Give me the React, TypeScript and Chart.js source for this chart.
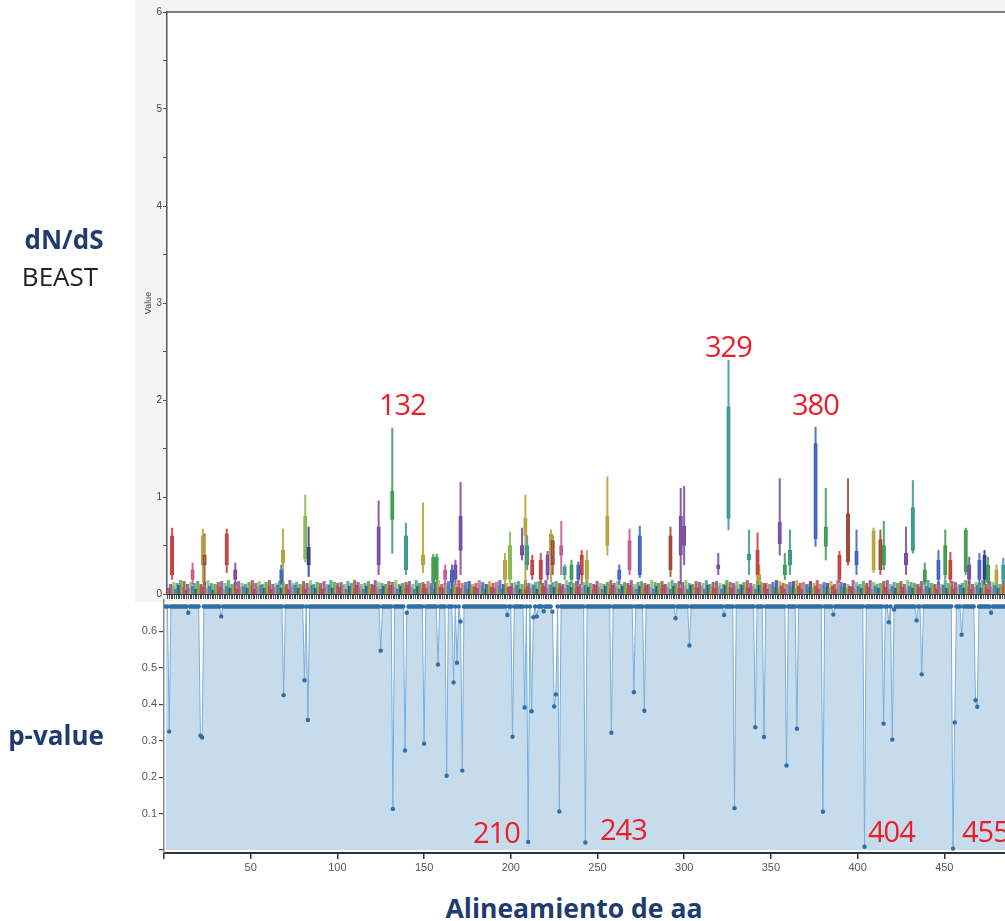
import React, { useEffect, useRef } from 'react';
import { Chart, registerables } from 'chart.js';
Chart.register(...registerables);
Chart.defaults.font.family = "'Liberation Sans', Arial, sans-serif";

// ---------- top panel (dN/dS BEAST) ----------
const TOP_SITES = 490;
const TOP_XMAX = 491;
// background per-site upper whisker, hundredths (hex digit per site)
const bgMaxHex =
  '6a8c5b9e7d4a6c8b5d9a7c6e8b4a9c7d5b8e6a9c5d7b8a6c9e' +
  '5b7d9a6c8e5a7b9d6c8a5e7b9c6a8d5b7e9a6c8b5d7a9e6c8b' +
  '7c9a5d8b6e9c7a5b8d6a9e7c5b8a6d9c7e5a8b6c9d7a5e8b6c' +
  'a6d8b5c9e7a6b8d5c9a7e6b8c5d9a7b6e8c5a9d7b6c8e5a9b7' +
  '8b6c9d5a7e8b6a9c5d7b8e6a9c7d5b8a6e9c7b5d8a6c9e7b5a' +
  '9d7b5a8c6e9b7d5a8c6b9e7a5c8d6b9a7e5c8b6d9a7c5e8b6d' +
  '6c8e5b9a7d6c8b5e9a7c6d8b5a9e7c6b8d5a9c7e6b8a5d9c7b' +
  'b5a9c7e6d8b5a9c7d6e8b5c9a7d6b8e5a9c7b6d8a5e9c7b6a8' +
  '7e5c8a6d9b7e5c8a6b9d7e5a8c6b9d7a5e8c6b9a7d5c8e6b9a' +
  '5c7a9e6b8d5c7a9b6e8d5a7c9b6e8a5d7c9b6a8e5c7d9b6a8c';

const peakSites = [3, 15, 21, 22, 35, 40, 67, 68, 81, 83, 124, 132, 140, 150, 156, 158, 163, 167, 169, 172,
  198, 201, 208, 210, 211, 214, 219, 223, 225, 226, 231, 233, 237, 241, 243, 246, 258, 265, 271, 277,
  295, 301, 303, 323, 329, 341, 346, 347, 359, 362, 365, 380, 386, 394, 399, 404, 414, 418, 420, 433,
  437, 444, 452, 456, 459, 468, 470, 476, 479, 481, 486, 490];
const peakMin = [0.15, 0.1, 0.12, 0.1, 0.22, 0.1, 0.1, 0.12, 0.33, 0.18, 0.2, 0.42, 0.2, 0.22, 0.1, 0.1, 0.1, 0.08, 0.1, 0.2,
  0.1, 0.1, 0.35, 0.05, 0.25, 0.15, 0.1, 0.15, 0.12, 0.2, 0.2, 0.15, 0.1, 0.1, 0.1, 0.1, 0.4, 0.1, 0.2, 0.17,
  0.18, 0.1, 0.3, 0.2, 0.66, 0.2, 0.12, 0.1, 0.4, 0.15, 0.2, 0.49, 0.35, 0.12, 0.3, 0.2, 0.22, 0.2, 0.25, 0.2,
  0.42, 0.1, 0.1, 0.15, 0.12, 0.2, 0.1, 0.1, 0.1, 0.1, 0.1, 0.1];
const peakQ1 = [0.2, 0.15, 0.3, 0.3, 0.3, 0.15, 0.12, 0.32, 0.36, 0.3, 0.3, 0.77, 0.25, 0.3, 0.12, 0.15, 0.15, 0.12, 0.15, 0.45,
  0.15, 0.15, 0.4, 0.6, 0.3, 0.2, 0.15, 0.2, 0.4, 0.3, 0.4, 0.2, 0.15, 0.15, 0.2, 0.15, 0.5, 0.15, 0.25, 0.2,
  0.25, 0.4, 0.5, 0.26, 0.78, 0.35, 0.2, 0.12, 0.52, 0.2, 0.3, 0.57, 0.49, 0.15, 0.33, 0.3, 0.25, 0.25, 0.3, 0.3,
  0.45, 0.12, 0.15, 0.2, 0.15, 0.23, 0.15, 0.15, 0.15, 0.12, 0.12, 0.15];
const peakQ3 = [0.6, 0.25, 0.6, 0.4, 0.62, 0.25, 0.25, 0.45, 0.8, 0.48, 0.69, 1.06, 0.6, 0.4, 0.38, 0.38, 0.25, 0.25, 0.3, 0.8,
  0.35, 0.5, 0.5, 0.78, 0.5, 0.35, 0.35, 0.4, 0.62, 0.55, 0.5, 0.28, 0.3, 0.3, 0.4, 0.35, 0.8, 0.25, 0.55, 0.6,
  0.6, 0.8, 0.7, 0.3, 1.93, 0.41, 0.45, 0.2, 0.74, 0.3, 0.45, 1.55, 0.69, 0.4, 0.83, 0.44, 0.65, 0.56, 0.5, 0.42,
  0.89, 0.25, 0.35, 0.5, 0.35, 0.66, 0.3, 0.35, 0.4, 0.3, 0.25, 0.3];
const peakMax = [0.68, 0.32, 0.67, 0.62, 0.67, 0.32, 0.3, 0.67, 1.02, 0.69, 0.96, 1.71, 0.73, 0.94, 0.41, 0.41, 0.3, 0.3, 0.35, 1.15,
  0.42, 0.64, 0.68, 1.02, 0.6, 0.4, 0.42, 0.44, 0.66, 0.6, 0.75, 0.3, 0.35, 0.33, 0.45, 0.45, 1.21, 0.3, 0.67, 0.7,
  0.69, 1.09, 1.11, 0.42, 2.41, 0.66, 0.63, 0.3, 1.19, 0.42, 0.66, 1.72, 1.09, 0.44, 1.19, 0.66, 0.68, 0.66, 0.75, 0.69,
  1.17, 0.32, 0.45, 0.66, 0.43, 0.68, 0.38, 0.42, 0.45, 0.38, 0.3, 0.37];
const peakColorKey = ['r', 'k', 'o', 'n', 'r', 'p', 'b', 'o', 'l', 'v', 'p', 'g', 't', 'o', 'g', 'g', 'k', 'b', 'p', 'p',
  'o', 'l', 'p', 'o', 't', 'r', 'r', 'p', 'o', 'n', 'k', 't', 'g', 'b', 'r', 'o', 'o', 'b', 'k', 'b',
  'n', 'p', 'p', 'p', 't', 't', 'r', 'o', 'p', 'g', 't', 'b', 'g', 'r', 'n', 'b', 'o', 'n', 'g', 'p',
  't', 'g', 'b', 'g', 'r', 'g', 'p', 'b', 'v', 'g', 'o', 't'];
const topYTicks = [0, 0.5, 1, 1.5, 2, 2.5, 3, 3.5, 4, 4.5, 5, 5.5, 6];

// ---------- bottom panel (p-value) ----------
const P_SITES = 486;
const P_XMAX = 485;
const pBaseline = 0.668;
const dipSites = [3, 14, 21, 22, 33, 69, 81, 83, 125, 132, 139, 140, 150, 158, 163, 167, 169, 171, 172, 198,
  201, 208, 210, 212, 213, 215, 219, 224, 225, 226, 228, 243, 258, 271, 277, 295, 303, 323, 329, 341,
  346, 359, 365, 380, 386, 404, 415, 418, 420, 421, 434, 437, 455, 456, 460, 468, 469, 477];
const dipValues = [0.325, 0.651, 0.314, 0.309, 0.641, 0.425, 0.466, 0.357, 0.547, 0.113, 0.273, 0.651, 0.292, 0.509, 0.204, 0.46, 0.514, 0.627, 0.218, 0.645,
  0.311, 0.391, 0.022, 0.381, 0.639, 0.641, 0.655, 0.654, 0.394, 0.427, 0.106, 0.021, 0.322, 0.433, 0.382, 0.636, 0.561, 0.645, 0.115, 0.337,
  0.31, 0.232, 0.333, 0.105, 0.646, 0.009, 0.347, 0.625, 0.303, 0.66, 0.63, 0.482, 0.004, 0.35, 0.591, 0.411, 0.393, 0.651];
const pYTicks = [0, 0.1, 0.2, 0.3, 0.4, 0.5, 0.6];
const pXTicks = [0, 50, 100, 150, 200, 250, 300, 350, 400, 450];

const annotations = [
  { text: '132', left: 379, top: 389 },
  { text: '329', left: 705, top: 331 },
  { text: '380', left: 792, top: 389 },
  { text: '210', left: 473, top: 817 },
  { text: '243', left: 600, top: 814 },
  { text: '404', left: 868, top: 816 },
  { text: '455', left: 962, top: 816 },
];

const colorMap: Record<string, string> = {
  r: '#c4403f', g: '#3f9a52', b: '#3c63c0', p: '#7a4a9e', o: '#b8a23a',
  t: '#3a9a8a', k: '#c25a8e', n: '#9a4a3a', v: '#2f3a8a', l: '#8ab850',
};
const bgPalette = ['#c4403f', '#3f9a52', '#3c63c0', '#7a4a9e', '#b8a23a', '#3a9a8a', '#c25a8e', '#9a4a3a', '#2f3a8a', '#8ab850'];
const NAVY = '#1f3b70';

const topBgPlugin = {
  id: 'topBg',
  beforeDraw(chart: any) {
    const { ctx, chartArea } = chart;
    ctx.save();
    ctx.fillStyle = '#f4f4f4';
    ctx.fillRect(135, 0, chart.width - 135, 602);
    ctx.fillStyle = '#ffffff';
    ctx.fillRect(chartArea.left, chartArea.top, chartArea.right - chartArea.left, chartArea.bottom - chartArea.top);
    ctx.restore();
  },
  afterDraw(chart: any) {
    const { ctx, chartArea } = chart;
    ctx.save();
    ctx.strokeStyle = '#555';
    ctx.lineWidth = 1.5;
    ctx.beginPath();
    ctx.moveTo(chartArea.left, chartArea.top);
    ctx.lineTo(chartArea.right, chartArea.top);
    ctx.stroke();
    ctx.restore();
  },
};

function TopChart() {
  const ref = useRef<HTMLCanvasElement>(null);
  useEffect(() => {
    const sites = Array.from({ length: TOP_SITES }, (_, i) => i + 1);
    const bgData = sites.map((s, i) => ({ x: s, y: [0, parseInt(bgMaxHex[i], 16) / 100] }));
    const bgColors = sites.map((_, i) => bgPalette[(i * 3) % bgPalette.length] + 'cc');
    const whisk = peakSites.map((s, i) => ({ x: s, y: [peakMin[i], peakMax[i]] }));
    const box = peakSites.map((s, i) => ({ x: s, y: [peakQ1[i], peakQ3[i]] }));
    const pc = peakColorKey.map((c) => colorMap[c]);
    const siteTicks = Array.from({ length: TOP_XMAX + 1 }, (_, i) => i);
    const chart = new Chart(ref.current as HTMLCanvasElement, {
      type: 'bar',
      data: {
        datasets: [
          { data: bgData as any, backgroundColor: bgColors, barThickness: 2.5, grouped: false, order: 3 } as any,
          { data: whisk as any, backgroundColor: pc.map((c) => c + 'dd'), barThickness: 1.4, grouped: false, order: 2 } as any,
          {
            data: box as any, backgroundColor: pc.map((c) => c + '55'), borderColor: pc, borderWidth: 1,
            borderSkipped: false, barThickness: 3.5, grouped: false, order: 1,
          } as any,
        ],
      },
      options: {
        animation: false,
        responsive: false,
        maintainAspectRatio: false,
        events: [],
        layout: { padding: { left: 135, top: 12, right: 0, bottom: 0 } },
        plugins: { legend: { display: false }, tooltip: { enabled: false } },
        scales: {
          x: {
            type: 'linear', min: 0, max: TOP_XMAX, offset: false,
            afterBuildTicks: (s: any) => { s.ticks = siteTicks.map((v) => ({ value: v })); },
            afterFit: (s: any) => { s.height = 16; },
            ticks: { autoSkip: false, callback: () => '', padding: 0, font: { size: 1 } },
            grid: { drawOnChartArea: false, drawTicks: true, tickLength: 5, color: '#222', lineWidth: 0.8 },
            border: { display: true, color: '#333', width: 1 },
          },
          y: {
            type: 'linear', min: 0, max: 6,
            afterBuildTicks: (s: any) => { s.ticks = topYTicks.map((v) => ({ value: v })); },
            afterFit: (s: any) => { s.width = 32; },
            ticks: {
              autoSkip: false, padding: 1, color: '#444', font: { size: 10 },
              callback: (v: any) => (Number(v) % 1 === 0 ? String(v) : ''),
            },
            grid: { drawOnChartArea: false, drawTicks: true, tickLength: 4, color: '#555', lineWidth: 1 },
            border: { display: true, color: '#555', width: 1.5 },
            title: { display: true, text: 'Value', color: '#444', font: { size: 9 }, padding: { top: 8, bottom: 0 } },
          },
        },
      } as any,
      plugins: [topBgPlugin],
    });
    return () => chart.destroy();
  }, []);
  return <canvas ref={ref} width={1005} height={610} style={{ position: 'absolute', left: 0, top: 0 }} />;
}

function BottomChart() {
  const ref = useRef<HTMLCanvasElement>(null);
  useEffect(() => {
    const pMap = new Map<number, number>(dipSites.map((s, i) => [s, dipValues[i]]));
    const sites = Array.from({ length: P_SITES }, (_, i) => i + 1);
    const pData = sites.map((s) => ({ x: s, y: pMap.has(s) ? (pMap.get(s) as number) : pBaseline }));
    const chart = new Chart(ref.current as HTMLCanvasElement, {
      type: 'line',
      data: {
        datasets: [{
          data: pData as any,
          borderColor: '#7aaed8', borderWidth: 1, backgroundColor: '#c6dcec', fill: 'origin',
          pointRadius: 2.2, pointBackgroundColor: '#2f6fa8', pointBorderWidth: 0, tension: 0,
        } as any],
      },
      options: {
        animation: false,
        responsive: false,
        maintainAspectRatio: false,
        events: [],
        layout: { padding: { left: 135, top: 20, right: 0, bottom: 0 } },
        plugins: { legend: { display: false }, tooltip: { enabled: false } },
        scales: {
          x: {
            type: 'linear', min: 0, max: P_XMAX, offset: false,
            afterBuildTicks: (s: any) => { s.ticks = pXTicks.map((v) => ({ value: v })); },
            afterFit: (s: any) => { s.height = 27; },
            ticks: { autoSkip: false, padding: 2, color: '#555', font: { size: 11 }, callback: (v: any) => (Number(v) === 0 ? '' : String(v)) },
            grid: { drawOnChartArea: false, drawTicks: true, tickLength: 6, color: '#333', lineWidth: 1.5 },
            border: { display: true, color: '#333', width: 2 },
          },
          y: {
            type: 'linear', min: -0.008, max: 0.686,
            afterBuildTicks: (s: any) => { s.ticks = pYTicks.map((v) => ({ value: v })); },
            afterFit: (s: any) => { s.width = 29; },
            ticks: { autoSkip: false, padding: 2, color: '#555', font: { size: 11 }, callback: (v: any) => (Number(v) === 0 ? '' : Number(v).toFixed(1)) },
            grid: { drawOnChartArea: false, drawTicks: true, tickLength: 5, color: '#444', lineWidth: 1.2 },
            border: { display: true, color: '#888', width: 1.5 },
          },
        },
      } as any,
    });
    return () => chart.destroy();
  }, []);
  return <canvas ref={ref} width={1009} height={300} style={{ position: 'absolute', left: 0, top: 580 }} />;
}

const labelBase: React.CSSProperties = { position: 'absolute', fontFamily: "'Open Sans', sans-serif", lineHeight: 1, whiteSpace: 'nowrap' };

export default function App() {
  return (
    <div style={{ position: 'absolute', left: 0, top: 0, width: 1005, height: 921, overflow: 'hidden', background: '#fff' }}>
      <TopChart />
      <BottomChart />
      <div style={{ ...labelBase, left: 0, width: 128, top: 226, textAlign: 'center', fontSize: 26, fontWeight: 700, color: NAVY }}>dN/dS</div>
      <div style={{ ...labelBase, left: 0, width: 120, top: 263, textAlign: 'center', fontSize: 26, color: '#222' }}>BEAST</div>
      <div style={{ ...labelBase, left: 0, width: 112, top: 722, textAlign: 'center', fontSize: 26, fontWeight: 700, color: NAVY }}>p-value</div>
      <div style={{ ...labelBase, left: 374, width: 400, top: 895, textAlign: 'center', fontSize: 26.5, fontWeight: 700, color: NAVY }}>Alineamiento de aa</div>
      {annotations.map((a) => (
        <div key={a.text} style={{ ...labelBase, left: a.left, top: a.top, fontSize: 29, letterSpacing: -1, color: '#ee1c25' }}>{a.text}</div>
      ))}
    </div>
  );
}
